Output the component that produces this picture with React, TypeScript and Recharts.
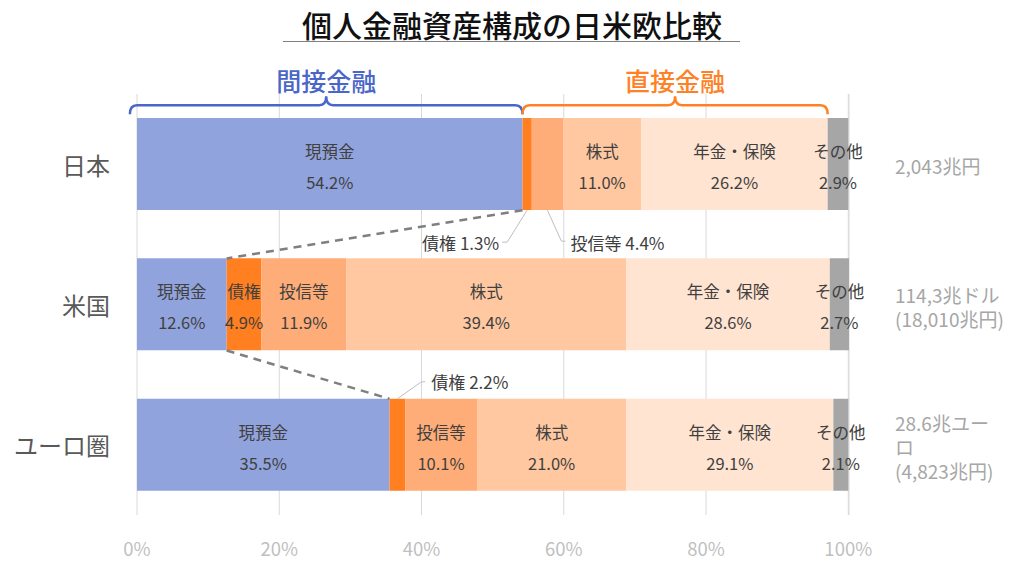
import React from 'react';
import { BarChart, Bar, XAxis, YAxis, CartesianGrid, LabelList, ReferenceLine, ReferenceDot } from 'recharts';

// ---- data ----
const regions = ['日本', '米国', 'ユーロ圏'];
const seriesNames = ['現預金', '債権', '投信等', '株式', '年金・保険', 'その他'];
const cash = [54.2, 12.6, 35.5];
const bonds = [1.3, 4.9, 2.2];
const funds = [4.4, 11.9, 10.1];
const stocks = [11.0, 39.4, 21.0];
const pension = [26.2, 28.6, 29.1];
const others = [2.9, 2.7, 2.1];
const seriesValues = [cash, bonds, funds, stocks, pension, others];
const totalLines = [['2,043兆円'], ['114,3兆ドル', '(18,010兆円)'], ['28.6兆ユー', 'ロ', '(4,823兆円)']];
const xTicks = [0, 20, 40, 60, 80, 100];
const seriesColors = ['#91A3DD', '#FF7F21', '#FFAD78', '#FFC8A1', '#FFE4D1', '#A6A6A6'];

// callouts (segments labelled outside the bar)
const calloutRegion = [0, 0, 2];
const calloutSeries = [1, 2, 1];
const calloutDir = ['downLeft', 'downRight', 'upRight'];

// braces
const braceLabels = ['間接金融', '直接金融'];
const braceColors = ['#4A66C8', '#FF8126'];

const FONT = "'Noto Sans CJK JP', 'Noto Sans', sans-serif";
const HALF_BAR = 46;

const isCallout = (r: number, s: number) =>
  calloutRegion.some((cr, i) => cr === r && calloutSeries[i] === s);

const data = regions.map((name, r) => {
  const row: any = { name };
  seriesValues.forEach((vals, s) => {
    row[`s${s}`] = vals[r];
    row[`t${s}`] = isCallout(r, s) ? '' : `${vals[r].toFixed(1)}%`;
  });
  return row;
});

const segStart = (r: number, s: number) => {
  let acc = 0;
  for (let k = 0; k < s; k++) acc += seriesValues[k][r];
  return acc;
};

const makeSegLabel = (name: string) => (props: any) => {
  const { x, y, width, height, value } = props;
  if (value === '' || value == null) return null;
  const cx = Number(x) + Number(width) / 2;
  const cy = Number(y) + Number(height) / 2;
  return (
    <g>
      <text x={cx} y={cy - 13} textAnchor="middle" dominantBaseline="central" fontSize={16.5} fill="#404040" fontFamily={FONT}>{name}</text>
      <text x={cx} y={cy + 18} textAnchor="middle" dominantBaseline="central" fontSize={16.5} fill="#404040" fontFamily={FONT}>{value}</text>
    </g>
  );
};

const LeftTick = (props: any) => {
  const { x, y, payload } = props;
  return (
    <text x={x} y={y} textAnchor="end" dominantBaseline="central" fontSize={24} fill="#595959" fontFamily={FONT}>{payload.value}</text>
  );
};

const RightTick = (props: any) => {
  const { x, y, payload } = props;
  const idx = regions.indexOf(payload.value);
  const lines = totalLines[idx] || [];
  const step = 24;
  const start = y + 1 - ((lines.length - 1) * step) / 2;
  return (
    <text x={x} y={start} textAnchor="start" dominantBaseline="central" fontSize={19} fill="#A6A6A6" fontFamily={FONT}>
      {lines.map((l, i) => (
        <tspan key={i} x={x} dy={i === 0 ? 0 : step}>{l}</tspan>
      ))}
    </text>
  );
};

const BottomTick = (props: any) => {
  const { x, y, payload } = props;
  return (
    <text x={x} y={y} textAnchor="middle" dominantBaseline="central" fontSize={18.5} fill="#BFBFBF" fontFamily={FONT}>{`${payload.value}%`}</text>
  );
};

const makeCallout = (i: number) => (p: any) => {
  const cx = p.cx, cy = p.cy;
  const dir = calloutDir[i];
  const r = calloutRegion[i];
  const s = calloutSeries[i];
  const text = `${seriesNames[s]} ${seriesValues[s][r].toFixed(1)}%`;
  let path = '';
  let tx = 0, ty = 0, anchor: any = 'start';
  if (dir === 'downLeft') {
    const by = cy + HALF_BAR;
    path = `M ${cx} ${by} L ${cx - 20} ${by + 32} L ${cx - 25} ${by + 32}`;
    tx = cx - 28; ty = by + 32; anchor = 'end';
  } else if (dir === 'downRight') {
    const by = cy + HALF_BAR;
    path = `M ${cx} ${by} L ${cx + 14} ${by + 31} L ${cx + 18} ${by + 31}`;
    tx = cx + 23; ty = by + 32; anchor = 'start';
  } else {
    const by = cy - HALF_BAR;
    path = `M ${cx} ${by} L ${cx + 24} ${by - 17} L ${cx + 28} ${by - 17}`;
    tx = cx + 34; ty = by - 17; anchor = 'start';
  }
  return (
    <g>
      <path d={path} stroke="#BFBFBF" strokeWidth={1} fill="none" />
      <text x={tx} y={ty} textAnchor={anchor} dominantBaseline="central" fontSize={17} fill="#404040" fontFamily={FONT}>{text}</text>
    </g>
  );
};

const makeBrace = (i: number) => (p: any) => {
  const x1 = p.x1, x2 = p.x2;
  const yt = p.y1 - HALF_BAR - 13;
  const yb = yt + 9;
  const yp = yt - 9;
  const xm = (x1 + x2) / 2;
  const r = 7;
  const d = `M ${x1} ${yb} Q ${x1} ${yt} ${x1 + r} ${yt} L ${xm - r} ${yt} Q ${xm} ${yt} ${xm} ${yp} Q ${xm} ${yt} ${xm + r} ${yt} L ${x2 - r} ${yt} Q ${x2} ${yt} ${x2} ${yb}`;
  return (
    <g>
      <path d={d} stroke={braceColors[i]} strokeWidth={2.5} fill="none" />
      <text x={xm} y={yt - 25} textAnchor="middle" dominantBaseline="central" fontSize={25} fontWeight={500} fill={braceColors[i]} fontFamily={FONT}>{braceLabels[i]}</text>
    </g>
  );
};

const connectorShape = (p: any) => (
  <line x1={p.x1} y1={p.y1 + HALF_BAR} x2={p.x2} y2={p.y2 - HALF_BAR} stroke="#7F7F7F" strokeWidth={2.5} strokeDasharray="8 6" />
);

const braceFrom = [-1, cash[0]];
const braceTo = [cash[0], 100 - others[0]];

export default function App() {
  return (
    <div style={{ position: 'absolute', left: 0, top: 0, width: 1024, height: 568, background: '#fff', fontFamily: FONT }}>
      <div style={{ position: 'absolute', left: 0, width: 1024, top: 4, textAlign: 'center', fontSize: 30, fontWeight: 500, color: '#111', lineHeight: '40px' }}>
        個人金融資産構成の日米欧比較
      </div>
      <div style={{ position: 'absolute', left: 283, width: 457, top: 41, height: 0, borderTop: '1.5px solid #808080' }} />
      <BarChart
        width={1024}
        height={568}
        data={data}
        layout="vertical"
        margin={{ top: 94, right: 0, bottom: 0, left: 0 }}
        barSize={92}
        style={{ position: 'absolute', left: 0, top: 0 }}
      >
        <CartesianGrid horizontal={false} stroke="#D9D9D9" />
        <XAxis type="number" domain={[0, 100]} ticks={xTicks} axisLine={false} tickLine={false} tickSize={0} tickMargin={33} height={53} tick={<BottomTick />} interval={0} />
        <YAxis type="category" dataKey="name" width={137} axisLine={false} tickLine={false} tickSize={0} tickMargin={27} tick={<LeftTick />} />
        <YAxis yAxisId="right" orientation="right" type="category" dataKey="name" width={175} axisLine={false} tickLine={false} tickSize={0} tickMargin={46} tick={<RightTick />} />
        {seriesNames.map((name, s) => (
          <Bar key={name} dataKey={`s${s}`} name={name} stackId="a" fill={seriesColors[s]} isAnimationActive={false}>
            <LabelList dataKey={`t${s}`} content={makeSegLabel(name)} />
          </Bar>
        ))}
        <ReferenceLine segment={[{ x: cash[0], y: regions[0] }, { x: cash[1], y: regions[1] }]} shape={connectorShape} />
        <ReferenceLine segment={[{ x: cash[1], y: regions[1] }, { x: cash[2], y: regions[2] }]} shape={connectorShape} />
        {braceLabels.map((_, i) => (
          <ReferenceLine key={`b${i}`} ifOverflow="visible" segment={[{ x: braceFrom[i], y: regions[0] }, { x: braceTo[i], y: regions[0] }]} shape={makeBrace(i)} />
        ))}
        {calloutRegion.map((r, i) => (
          <ReferenceDot key={`c${i}`} x={segStart(r, calloutSeries[i]) + seriesValues[calloutSeries[i]][r] / 2} y={regions[r]} r={0} shape={makeCallout(i)} />
        ))}
      </BarChart>
    </div>
  );
}
